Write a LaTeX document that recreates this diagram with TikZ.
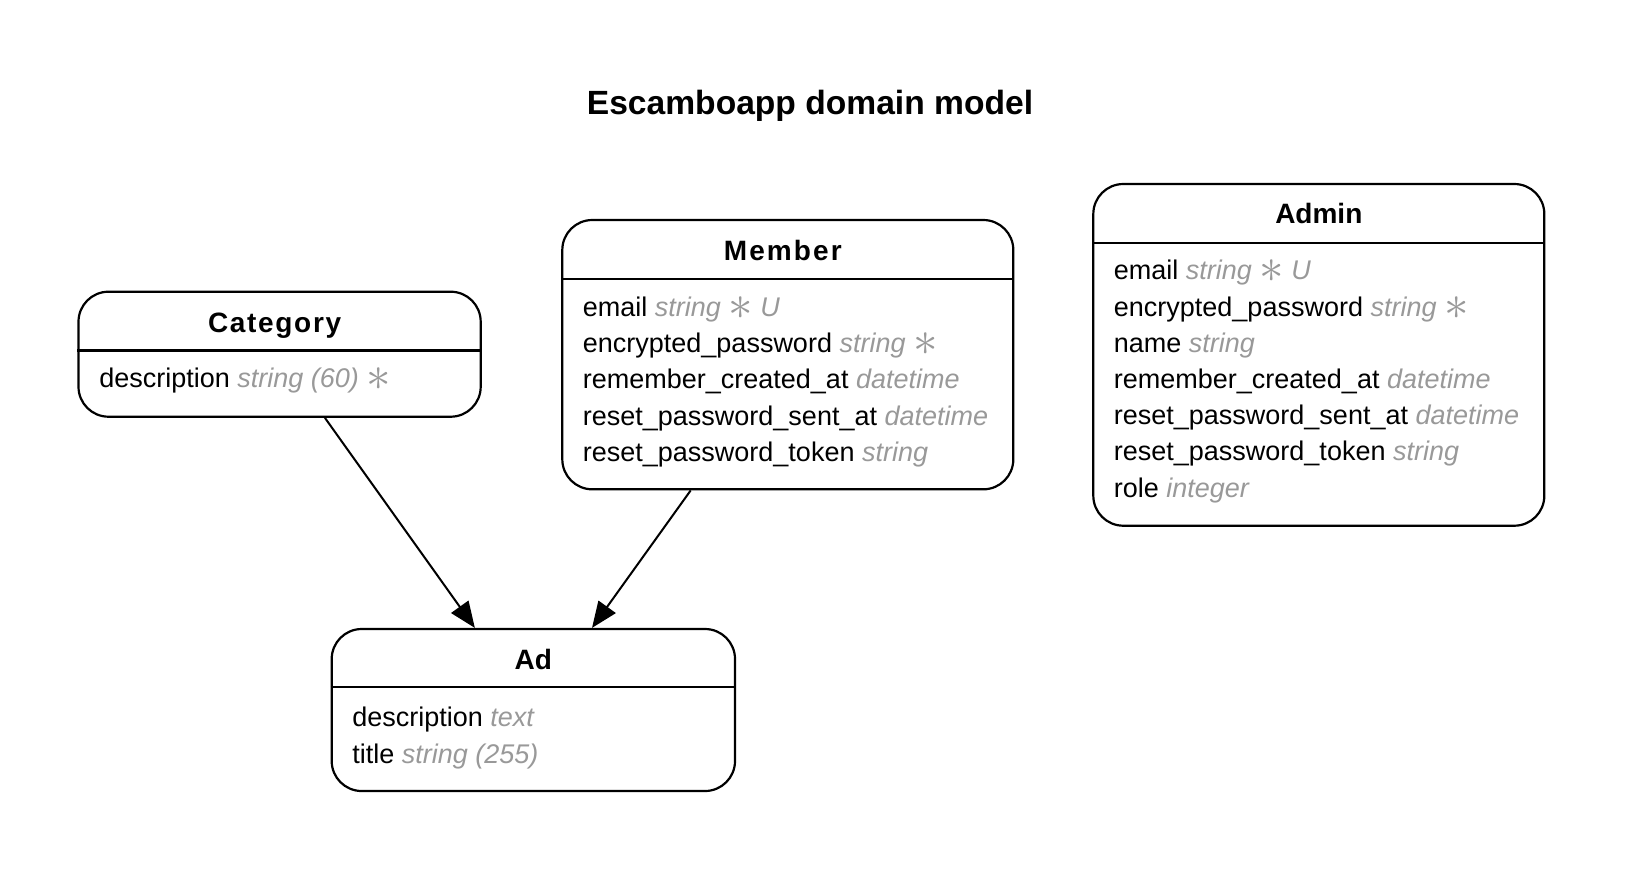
\documentclass[tikz,border=0pt]{standalone}
\usepackage{fontspec}
\usepackage{graphicx}
\setmainfont{Liberation Sans}
\usepackage{tikz}
\usetikzlibrary{arrows.meta,positioning,fit}
\definecolor{Ink}{HTML}{000000}
\definecolor{TypeGray}{HTML}{999999}
\newcommand{\fieldtype}[1]{{\itshape\color{TypeGray}#1}}
\newcommand{\notnull}{\raisebox{-0.12em}{\scalebox{1.7}{$\ast$}}}
\tikzset{
erdbox/.style={draw=Ink, line width=1.1pt, rounded corners=15pt, inner sep=0pt, fill=white},
erdrule/.style={draw=Ink, line width=1.1pt},
erdhead/.style={anchor=base, inner sep=0pt, font=\fontsize{14}{16}\selectfont\bfseries},
erdfield/.style={anchor=base west, inner sep=0pt, font=\fontsize{13.5}{16}\selectfont},
erdtitle/.style={anchor=base, inner sep=0pt, font=\fontsize{16.8}{20}\selectfont\bfseries},
erdarrow/.style={-{Triangle[length=13pt,width=10.5pt]}, line width=1pt, draw=Ink}
}
\begin{document}
\begin{tikzpicture}[x=0.5pt, y=-0.5pt]
  \useasboundingbox (0,0) rectangle (1625,875);
  \node[erdtitle] (title) at (810,114.3) {Escamboapp domain model};

  % Category
  \node[erdbox, fit={(78.5,291.7) (480.7,416.7)}] (category) {};
  \draw[erdrule] (category.west |- 0,350.5) -- (category.east |- 0,350.5);
  \node[erdhead, xshift=-2.5pt] (categoryname) at (category.center |- 0,332.7) {\addfontfeature{LetterSpace=6}Category};
  \node[erdfield] (categorydesc) at (99,387) {description \fieldtype{string (60) \notnull}};

  % Member
  \node[erdbox, fit={(562.3,220) (1013.3,489.3)}] (member) {};
  \draw[erdrule] (member.west |- 0,279) -- (member.east |- 0,279);
  \node[erdhead, xshift=-2.5pt] (membername) at (member.center |- 0,260) {\addfontfeature{LetterSpace=7.5}Member};
  \node[erdfield] (memberemail) at (582.5,316) {email \fieldtype{string \notnull{} U}};
  \node[erdfield] (memberpass) at (582.5,352.4) {encrypted\_password \fieldtype{string \notnull}};
  \node[erdfield] (memberremember) at (582.5,388.8) {remember\_created\_at \fieldtype{datetime}};
  \node[erdfield] (membersent) at (582.5,425.2) {reset\_password\_sent\_at \fieldtype{datetime}};
  \node[erdfield] (membertoken) at (582.5,461.6) {reset\_password\_token \fieldtype{string}};

  % Admin
  \node[erdbox, fit={(1093.3,184) (1544.3,525.7)}] (admin) {};
  \draw[erdrule] (admin.west |- 0,243.3) -- (admin.east |- 0,243.3);
  \node[erdhead] (adminname) at (admin.center |- 0,223.3) {Admin};
  \node[erdfield] (adminemail) at (1113.5,279.5) {email \fieldtype{string \notnull{} U}};
  \node[erdfield] (adminpass) at (1113.5,316) {encrypted\_password \fieldtype{string \notnull}};
  \node[erdfield] (adminname2) at (1113.5,352.3) {name \fieldtype{string}};
  \node[erdfield] (adminremember) at (1113.5,388.5) {remember\_created\_at \fieldtype{datetime}};
  \node[erdfield] (adminsent) at (1113.5,424.6) {reset\_password\_sent\_at \fieldtype{datetime}};
  \node[erdfield] (admintoken) at (1113.5,460.8) {reset\_password\_token \fieldtype{string}};
  \node[erdfield] (adminrole) at (1113.5,497) {role \fieldtype{integer}};

  % Ad
  \node[erdbox, fit={(331.7,629) (735,791)}] (ad) {};
  \draw[erdrule] (ad.west |- 0,687) -- (ad.east |- 0,687);
  \node[erdhead] (adname) at (ad.center |- 0,669.3) {Ad};
  \node[erdfield] (addesc) at (352,726.7) {description \fieldtype{text}};
  \node[erdfield] (adtitle) at (352,763.3) {title \fieldtype{string (255)}};

  \draw[erdarrow] (category) -- (ad);
  \draw[erdarrow] (member) -- (ad);
\end{tikzpicture}
\end{document}
